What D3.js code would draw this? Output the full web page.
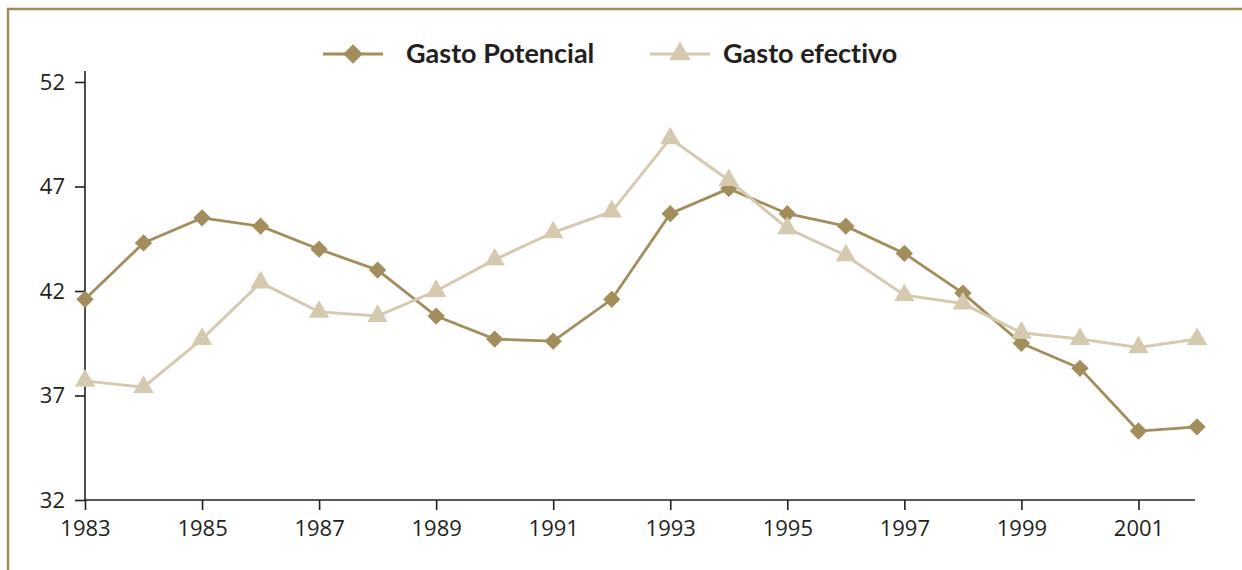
<!DOCTYPE html>
<html>
<head>
<meta charset="utf-8">
<script src="https://cdn.jsdelivr.net/npm/d3@7"></script>
<style>
  html, body { margin: 0; padding: 0; background: #fff; }
  svg { display: block; font-family: "Open Sans", Lato, sans-serif; }
</style>
</head>
<body>
<svg id="chart" width="1242" height="570"></svg>
<script>
// Years on the horizontal axis
const years = d3.range(1983, 2003);

// Gasto Potencial (diamonds)
const gastoPotencial = [41.6, 44.3, 45.5, 45.1, 44.0, 43.0, 40.8, 39.7, 39.6, 41.6,
                        45.7, 46.9, 45.7, 45.1, 43.8, 41.9, 39.5, 38.3, 35.3, 35.5];

// Gasto efectivo (triangles)
const gastoEfectivo = [37.7, 37.4, 39.7, 42.4, 41.0, 40.8, 42.0, 43.5, 44.8, 45.8,
                       49.3, 47.3, 45.0, 43.7, 41.8, 41.4, 40.0, 39.7, 39.3, 39.7];

// Axis tick values
const yTicks = [32, 37, 42, 47, 52];
const xTicks = [1983, 1985, 1987, 1989, 1991, 1993, 1995, 1997, 1999, 2001];

const seriesNames = ["Gasto Potencial", "Gasto efectivo"];

const colDark = "#a28d5d";
const colLight = "#d5c9b0";
const colInk = "#231f20";

const svg = d3.select("#chart");

// Outer frame (top and left edges visible)
svg.append("path")
  .attr("d", "M8,570 L8,9 L1242,9")
  .attr("fill", "none")
  .attr("stroke", "#a08b5c")
  .attr("stroke-width", 2.5);

const x = d3.scaleLinear().domain([1983, 2002]).range([85, 1197]);
const y = d3.scaleLinear().domain([32, 52]).range([500, 82]);

// Y axis
const yAxis = svg.append("g")
  .attr("transform", "translate(85,0)")
  .call(d3.axisLeft(y).tickValues(yTicks).tickSize(10).tickSizeOuter(0).tickPadding(10));
yAxis.select(".domain").remove();
yAxis.append("line")
  .attr("x1", 0).attr("x2", 0)
  .attr("y1", 71).attr("y2", y(32))
  .attr("stroke", colInk).attr("stroke-width", 1.6);
yAxis.selectAll(".tick line").attr("stroke", colInk).attr("stroke-width", 1.6);
yAxis.selectAll(".tick text")
  .attr("fill", colInk)
  .style("font-size", "22px")
  .style("font-family", "'Open Sans', Lato, sans-serif");

// X axis
const xAxis = svg.append("g")
  .attr("transform", `translate(0,${y(32)})`)
  .call(d3.axisBottom(x).tickValues(xTicks).tickFormat(d3.format("d")).tickSize(10).tickSizeOuter(0).tickPadding(10));
xAxis.select(".domain").remove();
xAxis.append("line")
  .attr("x1", 85).attr("x2", 1195)
  .attr("y1", 0).attr("y2", 0)
  .attr("stroke", colInk).attr("stroke-width", 1.6);
xAxis.selectAll(".tick line").attr("stroke", colInk).attr("stroke-width", 1.6);
xAxis.selectAll(".tick text")
  .attr("fill", colInk)
  .style("font-size", "22px")
  .style("font-family", "'Open Sans', Lato, sans-serif");

const line = d3.line()
  .x((d, i) => x(years[i]))
  .y(d => y(d));

const diamond = d3.symbol().type(d3.symbolSquare);
const triangle = d3.symbol().type(d3.symbolTriangle);

// Gasto Potencial series
svg.append("path")
  .datum(gastoPotencial)
  .attr("d", line)
  .attr("fill", "none")
  .attr("stroke", colDark)
  .attr("stroke-width", 2.8);
svg.append("g").selectAll("path")
  .data(gastoPotencial)
  .join("path")
  .attr("d", diamond.size(150))
  .attr("transform", (d, i) => `translate(${x(years[i])},${y(d)}) rotate(45)`)
  .attr("fill", colDark);

// Gasto efectivo series
svg.append("path")
  .datum(gastoEfectivo)
  .attr("d", line)
  .attr("fill", "none")
  .attr("stroke", colLight)
  .attr("stroke-width", 3);
svg.append("g").selectAll("path")
  .data(gastoEfectivo)
  .join("path")
  .attr("d", triangle.size(180))
  .attr("transform", (d, i) => `translate(${x(years[i])},${y(d)})`)
  .attr("fill", colLight);

// Legend
const legend = svg.append("g");
const legendItems = [
  { name: seriesNames[0], color: colDark, sym: d3.symbol().type(d3.symbolSquare).size(190), rot: 45, x0: 323, tx: 406 },
  { name: seriesNames[1], color: colLight, sym: d3.symbol().type(d3.symbolTriangle).size(200), rot: 0, x0: 650, tx: 723 }
];
legendItems.forEach(it => {
  const g = legend.append("g");
  g.append("line")
    .attr("x1", it.x0).attr("x2", it.x0 + 60)
    .attr("y1", 54).attr("y2", 54)
    .attr("stroke", it.color).attr("stroke-width", 3);
  g.append("path")
    .attr("d", it.sym())
    .attr("transform", `translate(${it.x0 + 30},${54}) rotate(${it.rot})`)
    .attr("fill", it.color);
  g.append("text")
    .attr("x", it.tx)
    .attr("y", 63)
    .attr("fill", colInk)
    .style("font-family", "Lato, 'Open Sans', sans-serif")
    .style("font-size", "27px")
    .style("font-weight", "bold")
    .style("font-variant-ligatures", "none")
    .text(it.name);
});
</script>
</body>
</html>
